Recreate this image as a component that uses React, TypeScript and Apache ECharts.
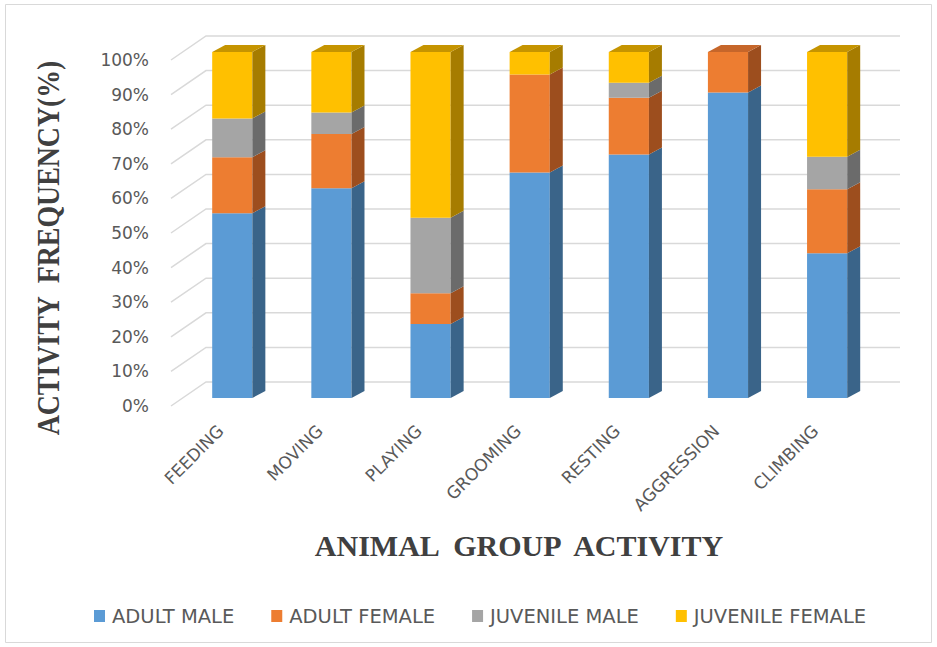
import React, { useEffect, useRef } from "react";
import * as echarts from "echarts";

// Activity categories and share (%) of each animal group per activity
const activities = ["FEEDING", "MOVING", "PLAYING", "GROOMING", "RESTING", "AGGRESSION", "CLIMBING"];
const adultMale = [53.4, 60.6, 21.4, 65.2, 70.4, 88.3, 41.8];
const adultFemale = [16.2, 15.7, 8.9, 28.3, 16.4, 11.7, 18.5];
const juvenileMale = [11.2, 6.2, 21.8, 0, 4.3, 0, 9.4];
const juvenileFemale = [19.2, 17.5, 47.9, 6.5, 8.9, 0, 30.3];
const groupNames = ["ADULT MALE", "ADULT FEMALE", "JUVENILE MALE", "JUVENILE FEMALE"];
const yTicks = [0, 10, 20, 30, 40, 50, 60, 70, 80, 90, 100];

// front / side / top shading for each group
const shades = [
  { front: "#5b9bd5", side: "#3a6489", top: "#4a81b3" },
  { front: "#ed7d31", side: "#9d4e1e", top: "#c6662a" },
  { front: "#a5a5a5", side: "#6b6b6b", top: "#8a8a8a" },
  { front: "#ffc000", side: "#a67c00", top: "#c59400" },
];

// pseudo-3D geometry (pixels)
const BAR_DX = 11.7; // bar front face sits this far behind the floor edge
const BAR_DY = -8;
const SIDE_DX = 13; // bar depth
const SIDE_DY = -7;
const WALL_DX = 35; // depth of the back wall holding the gridlines
const WALL_DY = -24;

export default function App() {
  const ref = useRef<HTMLDivElement>(null);

  useEffect(() => {
    if (!ref.current) return;
    const chart = echarts.init(ref.current, undefined, { renderer: "svg" });

    const groups = [adultMale, adultFemale, juvenileMale, juvenileFemale];
    const totals = activities.map((_, i) => groups.reduce((s, g) => s + g[i], 0));
    const running = activities.map(() => 0);

    const barSeries = groups.map((values, gi) => {
      const data = values.map((v, ci) => {
        const lo = running[ci];
        const hi = lo + v;
        running[ci] = hi;
        const isTop = v > 0 && Math.abs(hi - totals[ci]) < 1e-6 ? 1 : 0;
        return [ci, lo, hi, isTop];
      });
      const shade = shades[gi];
      return {
        type: "custom",
        name: groupNames[gi],
        itemStyle: { color: shade.front },
        encode: { x: 0, y: 2 },
        z: 3,
        data,
        renderItem: (params: any, api: any) => {
          const cat = api.value(0);
          const lo = api.value(1);
          const hi = api.value(2);
          const isTop = api.value(3);
          if (hi - lo <= 0) return { type: "group", children: [] };
          const pLo = api.coord([cat, lo]);
          const pHi = api.coord([cat, hi]);
          const w = api.size([1, 0])[0] * 0.405;
          const x0 = pLo[0] - w / 2 + BAR_DX;
          const x1 = x0 + w;
          const yb = pLo[1] + BAR_DY;
          const yt = pHi[1] + BAR_DY;
          const children: any[] = [
            {
              type: "rect",
              shape: { x: x0, y: yt, width: w, height: yb - yt },
              style: { fill: shade.front },
            },
            {
              type: "polygon",
              shape: {
                points: [
                  [x1, yt],
                  [x1 + SIDE_DX, yt + SIDE_DY],
                  [x1 + SIDE_DX, yb + SIDE_DY],
                  [x1, yb],
                ],
              },
              style: { fill: shade.side },
            },
          ];
          if (isTop) {
            children.push({
              type: "polygon",
              shape: {
                points: [
                  [x0, yt],
                  [x0 + SIDE_DX, yt + SIDE_DY],
                  [x1 + SIDE_DX, yt + SIDE_DY],
                  [x1, yt],
                ],
              },
              style: { fill: shade.top },
            });
          }
          return { type: "group", children };
        },
      };
    });

    // gridlines drawn on the back wall with a slanted run to the floor edge
    const gridSeries = {
      type: "custom",
      name: "gridlines",
      silent: true,
      z: 1,
      encode: { x: 0, y: 1 },
      data: yTicks.map((v) => [0, v]),
      renderItem: (params: any, api: any) => {
        const cs = params.coordSys;
        const y = api.coord([0, api.value(1)])[1];
        const L = cs.x;
        const R = cs.x + cs.width;
        return {
          type: "polyline",
          shape: {
            points: [
              [L, y],
              [L + WALL_DX, y + WALL_DY],
              [R + WALL_DX, y + WALL_DY],
            ],
          },
          style: { stroke: "#d9d9d9", lineWidth: 1.5, fill: "none" },
        };
      },
    };

    chart.setOption({
      animation: false,
      backgroundColor: "#ffffff",
      grid: { left: 171, right: 72, top: 60, bottom: 241 },
      xAxis: {
        type: "category",
        data: activities,
        axisLine: { show: false },
        axisTick: { show: false },
        splitLine: { show: false },
        axisLabel: {
          rotate: 45,
          margin: 22,
          color: "#595959",
          fontSize: 17,
          fontFamily: "DejaVu Sans",
          interval: 0,
        },
      },
      yAxis: {
        type: "value",
        min: 0,
        max: 100,
        interval: 10,
        axisLine: { show: false },
        axisTick: { show: false },
        splitLine: { show: false },
        axisLabel: {
          formatter: "{value}%",
          margin: 22,
          color: "#595959",
          fontSize: 17,
          fontFamily: "DejaVu Sans",
        },
      },
      legend: {
        data: groupNames,
        left: 89,
        top: 601,
        icon: "rect",
        itemWidth: 11,
        itemHeight: 12,
        itemGap: 37,
        textStyle: { color: "#595959", fontSize: 19.5, fontFamily: "DejaVu Sans", padding: [0, 0, 0, 2] },
      },
      graphic: [
        {
          type: "rect",
          silent: true,
          shape: { x: 5.5, y: 4.5, width: 926, height: 638 },
          style: { fill: "none", stroke: "#d9d9d9", lineWidth: 1 },
        },
        {
          type: "text",
          x: 519,
          y: 545,
          style: {
            text: "ANIMAL  GROUP  ACTIVITY",
            fill: "#404040",
            font: "bold 30px 'Liberation Serif'",
            align: "center",
            verticalAlign: "middle",
          },
        },
        {
          type: "text",
          x: 48,
          y: 248,
          rotation: Math.PI / 2,
          scaleX: 0.87,
          style: {
            text: "ACTIVITY  FREQUENCY(%)",
            fill: "#404040",
            font: "bold 32px 'Liberation Serif'",
            align: "center",
            verticalAlign: "middle",
          },
        },
      ],
      series: [gridSeries, ...barSeries],
    });

    return () => chart.dispose();
  }, []);

  return (
    <div
      ref={ref}
      style={{ position: "fixed", left: 0, top: 0, width: 937, height: 647 }}
    />
  );
}
